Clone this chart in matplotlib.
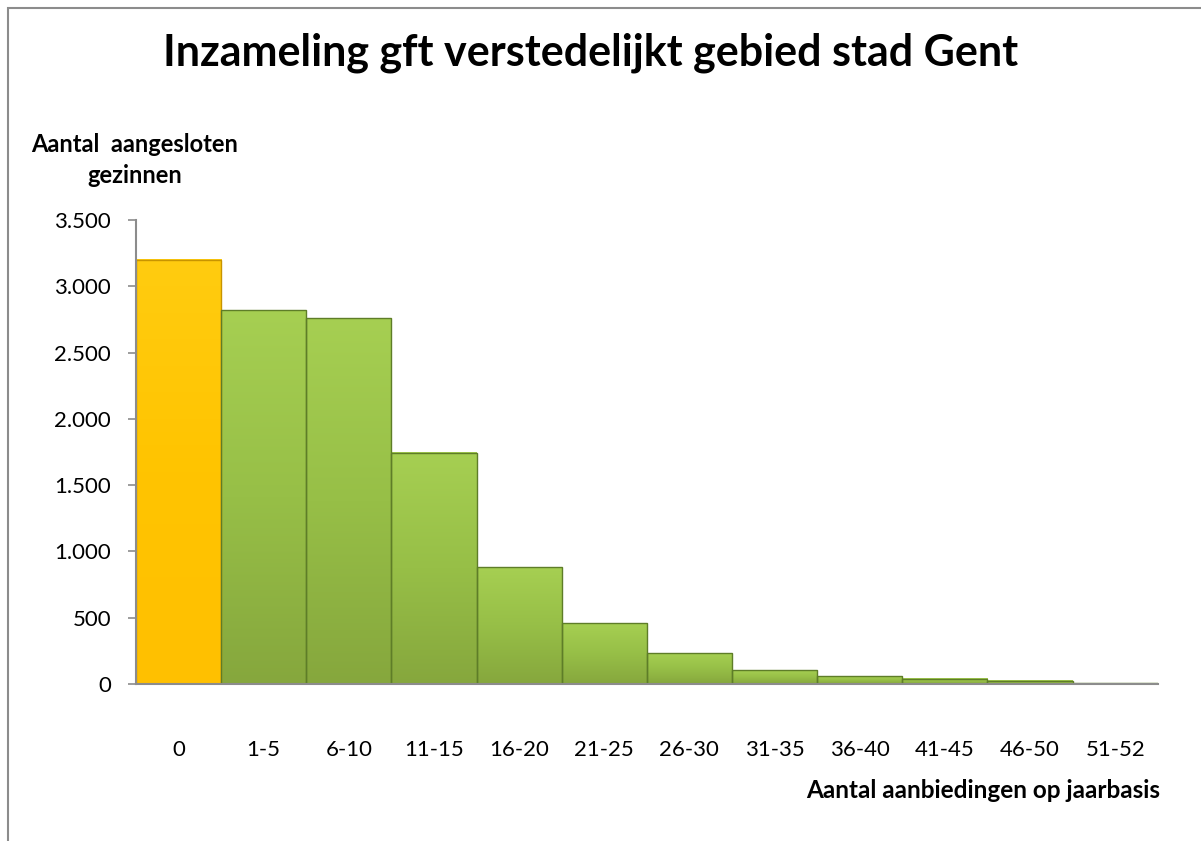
import numpy as np
import matplotlib
matplotlib.use('Agg')
import matplotlib.pyplot as plt
from matplotlib.colors import LinearSegmentedColormap
from matplotlib.patches import Rectangle
from matplotlib.ticker import FuncFormatter, MultipleLocator

# Number of connected households per number of gft collections per year
categories = ['0', '1-5', '6-10', '11-15', '16-20', '21-25', '26-30',
              '31-35', '36-40', '41-45', '46-50', '51-52']
households = [3200, 2820, 2760, 1745, 882, 460, 232, 103, 60, 40, 24, 4]

plt.rcParams['font.family'] = ['Lato', 'DejaVu Sans']

green = LinearSegmentedColormap.from_list('green', ['#86a73d', '#97bf47', '#a6cf52'])
yellow = LinearSegmentedColormap.from_list('yellow', ['#ffc000', '#ffc400', '#ffcc10'])

fig = plt.figure(figsize=(12.01, 8.41), dpi=100)
ax = fig.add_axes([0.1132, 0.1867, 0.8508, 0.5517])

x = np.arange(len(categories))
grad = np.linspace(0, 1, 256).reshape(-1, 1)
for i, h in zip(x, households):
    cmap = yellow if i == 0 else green
    edge = '#c89400' if i == 0 else '#5e7d28'
    ax.imshow(grad, extent=(i - 0.5, i + 0.5, 0, h), origin='lower',
              aspect='auto', cmap=cmap, zorder=2)
    ax.add_patch(Rectangle((i - 0.5, 0), 1.0, h, facecolor='none',
                           edgecolor=edge, linewidth=1.0, zorder=3))

ax.set_xlim(-0.5, len(categories) - 0.5)
ax.set_ylim(0, 3500)
ax.set_xticks(x)
ax.set_xticklabels(categories)
ax.yaxis.set_major_locator(MultipleLocator(500))
ax.yaxis.set_major_formatter(FuncFormatter(lambda v, p: f'{v:,.0f}'.replace(',', '.')))

for side in ['top', 'right']:
    ax.spines[side].set_visible(False)
for side in ['left', 'bottom']:
    ax.spines[side].set_color('#8c8c8c')
    ax.spines[side].set_linewidth(1.5)
    ax.spines[side].set_zorder(4)

ax.tick_params(axis='y', length=6, width=1.2, color='#8c8c8c', labelsize=16, pad=12)
ax.tick_params(axis='x', length=0, labelsize=16, pad=40)

fig.text(0.492, 0.937, 'Inzameling gft verstedelijkt gebied stad Gent',
         ha='center', va='center', fontsize=31, fontweight='bold')
fig.text(0.112, 0.810, 'Aantal  aangesloten\ngezinnen', ha='center', va='center',
         fontsize=17, fontweight='bold', linespacing=1.4)
fig.text(0.966, 0.0606, 'Aantal aanbiedingen op jaarbasis', ha='right', va='center',
         fontsize=17.5, fontweight='bold')

# chart area border
fig.patches.append(Rectangle((8 / 1201, -0.2), 1.2, 1.2 - 8 / 841, transform=fig.transFigure,
                             facecolor='none', edgecolor='#8c8c8c', linewidth=1.5))

fig.savefig('out.png', dpi=100)
